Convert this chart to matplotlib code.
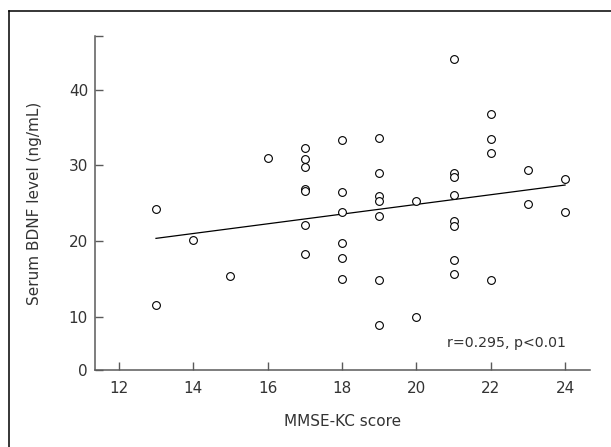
import matplotlib
matplotlib.use("Agg")
import matplotlib.pyplot as plt
from matplotlib.lines import Line2D

# --- Data (MMSE-KC score vs serum BDNF) ---
mmse_13 = [24.2, 11.5]
mmse_14 = [20.2]
mmse_15 = [15.4]
mmse_16 = [31.0]
mmse_17 = [32.3, 30.9, 29.8, 26.9, 26.6, 22.1, 18.3]
mmse_18 = [33.3, 26.5, 23.9, 19.8, 17.7, 15.0]
mmse_19 = [33.6, 29.0, 25.9, 25.3, 23.3, 14.85, 8.9]
mmse_20 = [25.3, 9.9]
mmse_21 = [44.1, 29.0, 28.4, 26.1, 22.6, 22.0, 17.45, 15.7]
mmse_22 = [36.8, 33.5, 31.6, 14.9]
mmse_23 = [29.4, 24.9]
mmse_24 = [28.2, 23.8]

groups = {13: mmse_13, 14: mmse_14, 15: mmse_15, 16: mmse_16, 17: mmse_17,
          18: mmse_18, 19: mmse_19, 20: mmse_20, 21: mmse_21, 22: mmse_22,
          23: mmse_23, 24: mmse_24}

# regression line end points as drawn
fit_x = [13, 24]
fit_y = [20.35, 27.4]

x_ticks = [12, 14, 16, 18, 20, 22, 24]
y_ticks = [2.95, 10, 20, 30, 40, 47.1]
y_tick_labels = ["0", "10", "20", "30", "40", ""]

plt.rcParams["font.family"] = ["DejaVu Sans"]
FS = 11
TXT = "#333333"

fig = plt.figure(figsize=(6.11, 4.47), dpi=100)
ax = fig.add_axes([95 / 611, 1 - 370 / 447, 495 / 611, 334 / 447])

xs, ys = [], []
for score, vals in groups.items():
    xs += [score] * len(vals)
    ys += vals

ax.plot(xs, ys, linestyle="none", marker="o", markersize=5.6,
        markerfacecolor="white", markeredgecolor="black", markeredgewidth=0.8,
        zorder=3)
ax.plot(fit_x, fit_y, color="black", linewidth=0.9, zorder=2)

ax.set_xlim(11.36, 24.67)
ax.set_ylim(2.95, 47.1)
ax.set_xticks(x_ticks)
ax.set_yticks(y_ticks)
ax.set_yticklabels(y_tick_labels)

spine_col = "#5a5a5a"
for side in ["top", "right"]:
    ax.spines[side].set_visible(False)
for side in ["left", "bottom"]:
    ax.spines[side].set_color(spine_col)
    ax.spines[side].set_linewidth(1.1)

ax.tick_params(axis="both", direction="in", length=5.5, width=1.0,
               color=spine_col, labelsize=FS, labelcolor=TXT)
ax.tick_params(axis="x", pad=8)
ax.tick_params(axis="y", pad=5)

ax.set_xlabel("MMSE-KC score", fontsize=FS, color=TXT, labelpad=13)
ax.set_ylabel("Serum BDNF level (ng/mL)", fontsize=FS, color=TXT,
              labelpad=19)

# annotation placed in pixel coords (origin bottom-left)
ax.text(566, 447 - 343, "r=0.295, p<0.01", transform=None, ha="right",
        va="center", fontsize=10.2, color=TXT)

# outer frame (only left and top edges fall inside the picture)
fig.add_artist(Line2D([9 / 611, 9 / 611], [0, 1 - 11 / 447],
                      color="black", linewidth=1.1))
fig.add_artist(Line2D([9 / 611, 1], [1 - 11 / 447, 1 - 11 / 447],
                      color="black", linewidth=1.1))

fig.savefig("out.png", dpi=100)
